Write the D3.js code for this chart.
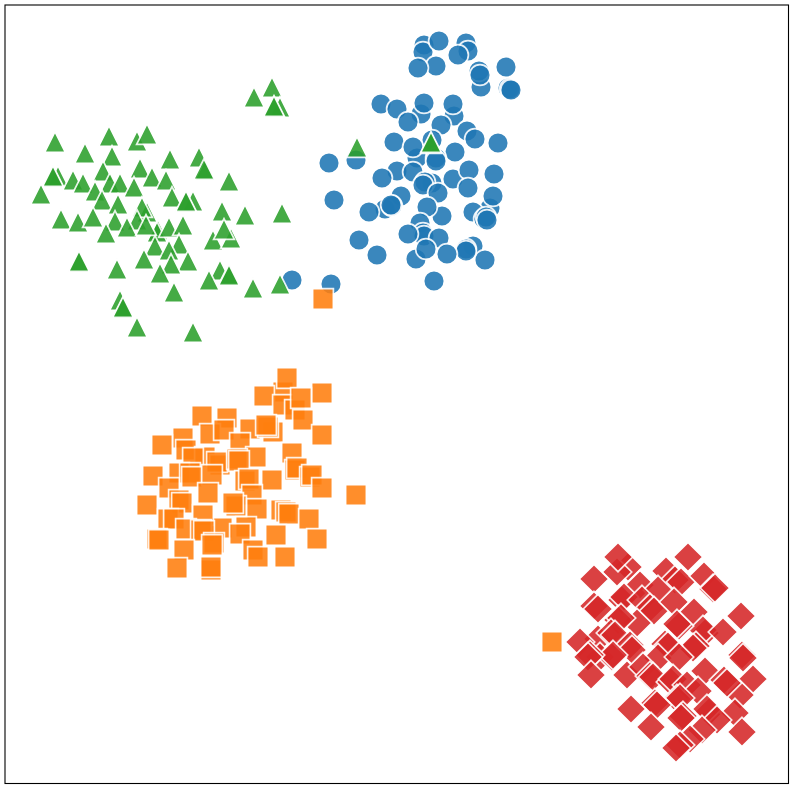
<!DOCTYPE html>
<html><head><meta charset="utf-8">
<script src="https://cdn.jsdelivr.net/npm/d3@7/dist/d3.min.js"></script>
<style>html,body{margin:0;padding:0;background:#fff}svg{display:block}</style>
</head><body><div id="chart"></div>
<script>
const classNames = ["circle class", "square class", "triangle class", "diamond class"];
const classColors = ["#1f77b4", "#ff7f0e", "#2ca02c", "#d62728"];
const circlePoints = [[424,45],[466,43],[423,52],[468,51],[439,41],[458,55],[436,66],[418,68],[481,87],[479,71],[480,75],[506,67],[508,88],[510,89],[511,90],[381,104],[397,109],[421,114],[408,122],[424,103],[454,116],[453,104],[441,125],[467,131],[475,139],[498,143],[394,142],[432,140],[417,158],[413,147],[455,152],[436,158],[436,161],[356,160],[329,163],[397,171],[382,178],[413,172],[453,179],[469,170],[494,174],[432,183],[425,182],[423,185],[468,188],[438,193],[490,208],[493,196],[401,196],[334,200],[385,209],[392,206],[391,205],[369,212],[442,216],[427,207],[473,212],[484,219],[486,217],[487,220],[420,223],[423,233],[424,236],[408,234],[439,238],[359,240],[473,246],[466,249],[466,251],[447,254],[416,259],[426,249],[377,255],[485,260],[434,281],[331,284],[292,280]];
const squarePoints = [[283,392],[287,378],[264,396],[322,393],[283,405],[295,410],[301,398],[303,420],[322,435],[202,416],[227,418],[250,429],[273,432],[268,427],[266,425],[210,434],[224,430],[183,438],[162,445],[240,443],[186,450],[292,453],[256,457],[205,457],[193,458],[220,465],[217,462],[237,459],[239,461],[295,470],[297,468],[310,477],[312,475],[179,473],[190,473],[192,477],[212,475],[153,476],[245,481],[249,479],[272,480],[169,488],[322,488],[356,495],[208,493],[179,500],[182,503],[147,505],[252,495],[236,506],[233,503],[257,509],[281,510],[286,512],[289,514],[168,519],[174,519],[309,519],[222,528],[203,515],[186,529],[201,530],[204,531],[246,527],[240,534],[276,535],[317,539],[157,539],[159,540],[214,543],[212,545],[184,550],[253,550],[258,557],[285,557],[177,568],[211,570],[211,567],[323,299],[552,642]];
const trianglePoints = [[55,142],[109,136],[137,141],[147,134],[85,153],[112,156],[170,159],[199,157],[205,170],[204,169],[140,168],[58,176],[53,177],[53,176],[103,171],[73,180],[83,183],[110,183],[120,183],[152,177],[166,180],[134,187],[95,191],[41,194],[229,181],[172,197],[193,201],[186,202],[186,201],[102,200],[118,204],[147,212],[142,207],[137,220],[222,211],[245,215],[282,213],[61,219],[78,222],[93,217],[115,221],[127,227],[158,230],[157,232],[169,227],[146,225],[183,225],[106,233],[213,240],[231,238],[224,229],[155,246],[179,244],[169,250],[144,259],[188,261],[171,264],[79,262],[79,261],[117,269],[160,273],[220,270],[229,274],[229,275],[209,280],[253,288],[280,284],[174,292],[120,300],[123,308],[123,307],[137,327],[193,332],[272,87],[254,97],[280,107],[274,107],[274,106],[357,147],[431,143],[431,142]];
const diamondPoints = [[628,567],[617,572],[618,557],[688,557],[594,579],[666,571],[675,580],[681,582],[704,576],[713,589],[715,588],[640,585],[658,590],[622,600],[624,597],[594,606],[598,609],[642,600],[650,608],[654,611],[674,602],[694,612],[637,623],[618,620],[621,618],[741,616],[705,633],[703,630],[679,626],[677,624],[723,632],[598,639],[580,642],[611,633],[615,635],[696,646],[693,648],[630,645],[632,650],[665,644],[668,646],[600,657],[612,657],[613,655],[590,655],[588,657],[742,655],[743,658],[658,658],[679,657],[591,675],[627,675],[643,667],[650,676],[653,677],[705,671],[671,682],[673,679],[753,679],[687,685],[740,695],[724,680],[727,683],[698,691],[677,699],[680,698],[655,703],[657,705],[631,709],[709,712],[707,709],[735,713],[683,716],[681,718],[651,727],[717,720],[702,730],[742,732],[690,739],[680,745],[676,748]];
const seriesPoints = [circlePoints, squarePoints, trianglePoints, diamondPoints];
const markerShapes = ["circle", "square", "triangle", "diamond"];

const W = 798, H = 798;
const x = d3.scaleLinear().domain([0, 798]).range([0, W]);
const y = d3.scaleLinear().domain([0, 798]).range([0, H]);

const svg = d3.select("#chart").append("svg").attr("width", W).attr("height", H);
svg.append("rect").attr("width", W).attr("height", H).attr("fill", "#fff");

const shapes = {
  circle: { draw(c, s) { const r = Math.sqrt(s) / 2; c.arc(0, 0, r, 0, 2 * Math.PI); } },
  square: { draw(c, s) { const a = Math.sqrt(s) / 2; c.moveTo(-a, -a); c.lineTo(a, -a); c.lineTo(a, a); c.lineTo(-a, a); c.closePath(); } },
  triangle: { draw(c, s) { const a = Math.sqrt(s) / 2; c.moveTo(0, -a); c.lineTo(a, a); c.lineTo(-a, a); c.closePath(); } },
  diamond: { draw(c, s) { const a = Math.sqrt(s) / 2 * Math.SQRT2; c.moveTo(0, -a); c.lineTo(a, 0); c.lineTo(0, a); c.lineTo(-a, 0); c.closePath(); } }
};
const markerArea = 20.8 * 20.8;

seriesPoints.forEach((pts, i) => {
  const path = d3.symbol().type(shapes[markerShapes[i]]).size(markerArea)();
  svg.append("g").attr("class", classNames[i].replace(" ", "-"))
    .selectAll("path").data(pts).join("path")
    .attr("d", path)
    .attr("transform", d => `translate(${x(d[0])},${y(d[1])})`)
    .attr("fill", classColors[i])
    .attr("stroke", "#fff")
    .attr("stroke-width", 1.7)
    .attr("opacity", 0.88);
});

svg.append("rect").attr("x", x(5)).attr("y", y(5)).attr("width", x(783.5)).attr("height", y(778.5))
  .attr("fill", "none").attr("stroke", "#000").attr("stroke-width", 1.1);
</script></body></html>
